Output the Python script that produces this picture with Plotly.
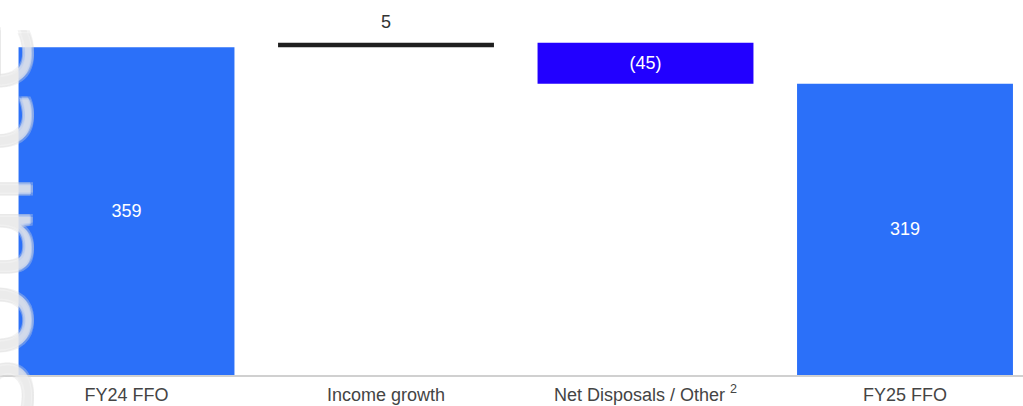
import plotly.graph_objects as go

categories = ["FY24 FFO", "Income growth", "Net Disposals / Other <sup>2</sup>", "FY25 FFO"]
values = [359, 5, -45, 319]
labels = ["359", "5", "(45)", "319"]
kinds = ["total", "delta", "delta", "total"]

colors = {"total": "#2B70F9", "up": "#1F1F1F", "down": "#2200FF"}
FONT = "Liberation Sans, Arial, sans-serif"

bases, heights, bar_colors = [], [], []
running = 0
for v, k in zip(values, kinds):
    if k == "total":
        bases.append(0)
        heights.append(v)
        bar_colors.append(colors["total"])
        running = v
    else:
        if v >= 0:
            bases.append(running)
            heights.append(v)
            bar_colors.append(colors["up"])
        else:
            bases.append(running + v)
            heights.append(-v)
            bar_colors.append(colors["down"])
        running += v

inside_text = [t if k == "total" or v < 0 else "" for t, k, v in zip(labels, kinds, values)]

fig = go.Figure()
fig.add_trace(go.Bar(
    x=categories,
    y=heights,
    base=bases,
    marker=dict(color=bar_colors, line=dict(width=0)),
    width=0.832,
    text=inside_text,
    textposition="inside",
    insidetextanchor="middle",
    textangle=0,
    textfont=dict(family=FONT, size=18, color="#FFFFFF"),
    cliponaxis=False,
    hoverinfo="skip",
))

# labels above positive delta bars
for c, t, k, v, b, h in zip(categories, labels, kinds, values, bases, heights):
    if k == "delta" and v >= 0:
        fig.add_annotation(x=c, y=b + h, text=t, showarrow=False, yanchor="bottom",
                           yshift=9, font=dict(family=FONT, size=18, color="#333333"))

# faint watermark on the left edge
fig.add_annotation(
    text="Source",
    xref="paper", yref="paper",
    x=0, y=0.40, xanchor="right", yanchor="middle",
    xshift=70,
    textangle=-90,
    showarrow=False,
    font=dict(family="Open Sans, sans-serif", size=126, color="rgba(255,255,255,0.35)",
              shadow="1.5px 1.5px 0 #d9d9d9, -1.5px -1.5px 0 #d9d9d9, 1.5px -1.5px 0 #d9d9d9, -1.5px 1.5px 0 #d9d9d9"),
)

fig.update_layout(
    width=1023, height=406,
    margin=dict(l=0, r=0, t=0, b=31),
    paper_bgcolor="white", plot_bgcolor="white",
    showlegend=False,
    bargap=0.167,
    xaxis=dict(
        type="category",
        range=[-0.4875, 3.4547],
        showgrid=False, zeroline=False,
        showline=True, linecolor="#D0D0D0", linewidth=2,
        ticks="", ticklabelstandoff=2, automargin=False,
        tickfont=dict(family=FONT, size=18, color="#444444"),
        fixedrange=True,
    ),
    yaxis=dict(
        range=[0, 410.7],
        visible=False, showgrid=False, zeroline=False, automargin=False,
        fixedrange=True,
    ),
)

fig.write_html("out.html")
